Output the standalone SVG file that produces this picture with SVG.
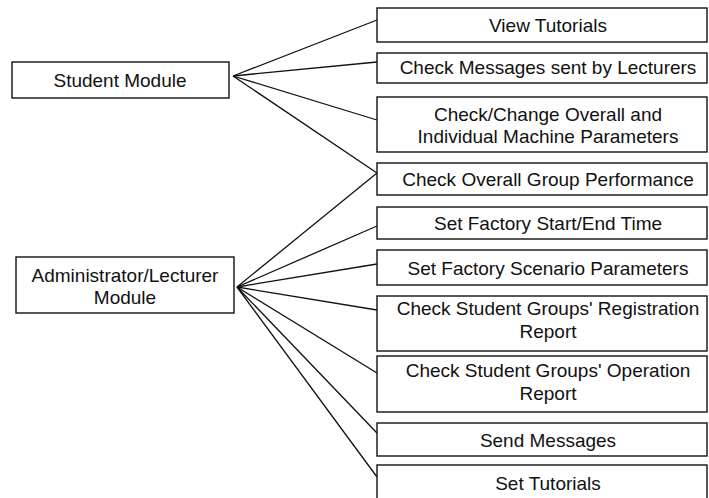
<svg xmlns="http://www.w3.org/2000/svg" width="709" height="498" viewBox="0 0 709 498">
<style>
.box{fill:#fff;stroke:#111;stroke-width:1.4}
.t{font-family:"Liberation Sans",Arial,sans-serif;font-size:19px;fill:#111;text-anchor:middle}
.c line{stroke:#111;stroke-width:1.3}
</style>
<rect width="709" height="498" fill="#fff"/>
<g class="c" id="connectors">
<line x1="233" y1="76" x2="377" y2="20"/>
<line x1="233" y1="76" x2="377" y2="62"/>
<line x1="233" y1="76" x2="377" y2="120"/>
<line x1="233" y1="76" x2="377" y2="173"/>
<line x1="237" y1="287" x2="377" y2="173"/>
<line x1="237" y1="287" x2="377" y2="226"/>
<line x1="237" y1="287" x2="377" y2="264"/>
<line x1="237" y1="287" x2="377" y2="310"/>
<line x1="237" y1="287" x2="377" y2="373"/>
<line x1="237" y1="287" x2="377" y2="433"/>
<line x1="237" y1="287" x2="377" y2="477"/>
</g>
<g id="student"><rect class="box" x="12" y="62" width="217" height="36"/><text class="t" x="120" y="87">Student Module</text></g>
<g id="admin"><rect class="box" x="16" y="257" width="218" height="56"/><text class="t" x="125" y="282">Administrator/Lecturer</text><text class="t" x="125" y="304">Module</text></g>
<g id="n1"><rect class="box" x="377" y="8" width="330" height="34"/><text class="t" x="548" y="32">View Tutorials</text></g>
<g id="n2"><rect class="box" x="377" y="53" width="330" height="30"/><text class="t" x="548" y="74">Check Messages sent by Lecturers</text></g>
<g id="n3"><rect class="box" x="377" y="97" width="330" height="55"/><text class="t" x="548" y="121">Check/Change Overall and</text><text class="t" x="548" y="143">Individual Machine Parameters</text></g>
<g id="n4"><rect class="box" x="377" y="163" width="330" height="32"/><text class="t" x="548" y="186">Check Overall Group Performance</text></g>
<g id="n5"><rect class="box" x="377" y="207" width="330" height="32"/><text class="t" x="548" y="230">Set Factory Start/End Time</text></g>
<g id="n6"><rect class="box" x="377" y="250" width="330" height="35"/><text class="t" x="548" y="275">Set Factory Scenario Parameters</text></g>
<g id="n7"><rect class="box" x="377" y="296" width="330" height="55"/><text class="t" x="548" y="315">Check Student Groups' Registration</text><text class="t" x="548" y="338">Report</text></g>
<g id="n8"><rect class="box" x="377" y="356" width="330" height="56"/><text class="t" x="548" y="377">Check Student Groups' Operation</text><text class="t" x="548" y="400">Report</text></g>
<g id="n9"><rect class="box" x="377" y="423" width="330" height="33"/><text class="t" x="548" y="447">Send Messages</text></g>
<g id="n10"><rect class="box" x="377" y="465" width="330" height="40"/><text class="t" x="548" y="490">Set Tutorials</text></g>
</svg>
